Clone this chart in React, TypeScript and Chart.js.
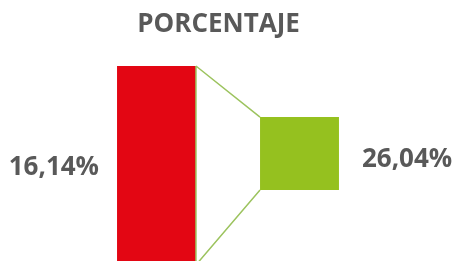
import React, { useEffect, useRef } from "react";
import { Chart, registerables } from "chart.js";

Chart.register(...registerables);

const categories = ["Total", "Detalle"];
const barRanges: [number, number][] = [
  [-2, 100],
  [36.4, 73.8],
];
const valueLabels = ["16,14%", "26,04%"];
const barColors = ["#E30613", "#95C11F"];
const titleText = "PORCENTAJE";

const connectorPlugin = {
  id: "connectors",
  afterDatasetsDraw(chart: any) {
    const meta = chart.getDatasetMeta(0);
    const a = meta.data[0];
    const b = meta.data[1];
    if (!a || !b) return;
    const aRight = a.x + a.width / 2;
    const bLeft = b.x - b.width / 2;
    const aTop = Math.min(a.y, a.base);
    const aBot = Math.max(a.y, a.base);
    const bTop = Math.min(b.y, b.base);
    const bBot = Math.max(b.y, b.base);
    const ctx = chart.ctx;
    ctx.save();
    ctx.strokeStyle = "#9CC35E";
    ctx.lineWidth = 1.5;
    ctx.beginPath();
    ctx.moveTo(aRight, aTop);
    ctx.lineTo(bLeft, bTop);
    ctx.moveTo(aRight, aBot);
    ctx.lineTo(bLeft, bBot);
    ctx.moveTo(aRight, aTop);
    ctx.lineTo(aRight, aBot);
    ctx.stroke();

    ctx.fillStyle = "#595959";
    ctx.font = "bold 26px 'Open Sans'";
    ctx.textBaseline = "middle";
    ctx.textAlign = "right";
    ctx.fillText(valueLabels[0], a.x - a.width / 2 - 18, chart.scales.y.getPixelForValue(47.7));
    ctx.textAlign = "left";
    ctx.fillText(valueLabels[1], b.x + b.width / 2 + 23, (bTop + bBot) / 2 + 6);

    ctx.textAlign = "center";
    ctx.font = "bold 26px 'Open Sans'";
    ctx.fillText(titleText, (aRight + bLeft) / 2 - 9.5, 25);
    ctx.restore();
  },
};

export default function App() {
  const ref = useRef<HTMLCanvasElement>(null);
  useEffect(() => {
    document.body.style.margin = "0";
    const chart = new Chart(ref.current!, {
      type: "bar",
      data: {
        labels: categories,
        datasets: [
          {
            data: barRanges as any,
            backgroundColor: barColors,
            borderWidth: 0,
            barPercentage: 0.552,
            categoryPercentage: 1,
          },
        ],
      },
      options: {
        responsive: false,
        animation: false,
        layout: { padding: { left: 85, right: 84, top: 66, bottom: 0 } },
        scales: {
          x: { display: false },
          y: { display: false, min: 0, max: 100 },
        },
        plugins: {
          legend: { display: false },
          tooltip: { enabled: false },
          title: { display: false },
        },
      },
      plugins: [connectorPlugin],
    });
    return () => chart.destroy();
  }, []);
  return (
    <div style={{ width: 455, height: 261 }}>
      <canvas ref={ref} width={455} height={261} />
    </div>
  );
}
